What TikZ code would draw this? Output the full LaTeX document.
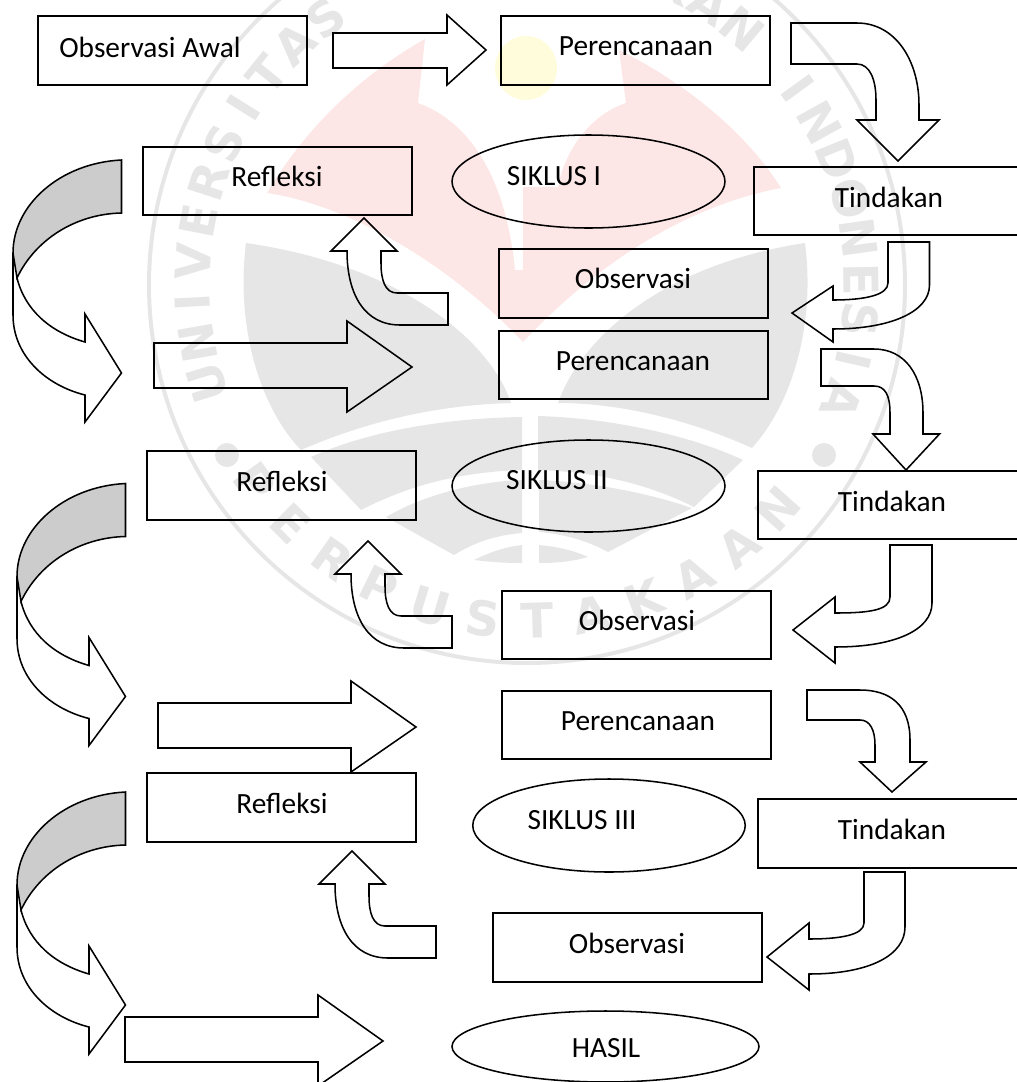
\documentclass[tikz,border=0pt]{standalone}
\usepackage{fontspec}
\setmainfont{Carlito}
\newfontfamily\wmfont{DejaVu Sans}
\usetikzlibrary{shapes.geometric}
\definecolor{wmgray}{HTML}{E6E6E6}
\definecolor{wmred}{HTML}{FCE6E6}
\definecolor{wmyellow}{HTML}{FFFCDC}
\definecolor{faceGray}{HTML}{CCCCCC}
\tikzset{
  line/.style={draw=black, line width=1.15pt, line join=miter},
  box/.style 2 args={line, rectangle, inner sep=0pt, minimum width=#1*0.75pt, minimum height=#2*0.75pt},
  oval/.style 2 args={line, ellipse, inner sep=0pt, minimum width=#1*0.75pt, minimum height=#2*0.75pt},
  lbl/.style={inner sep=0pt, font=\fontsize{22}{24}\selectfont},
  wmletter/.style={inner sep=0pt, text=wmgray, font=\wmfont\bfseries\fontsize{36}{38}\selectfont},
  curl/.pic={
    \draw[line, fill=faceGray] (121.5,160) .. controls (60,163) and (13,205) .. (13,253) -- (17,278) .. controls (35,240) and (75,214) .. (121.5,213) -- cycle;
    \draw[line] (13,253) -- (13,315) .. controls (13,355) and (45,385) .. (85,395) -- (85,422) -- (121.5,373) -- (85,314) -- (85,342) .. controls (50,332) and (25,310) .. (17,278);
  },
  upbend/.pic={
    \draw[line] (364,218) -- (397,251) -- (381,251) -- (381,263) .. controls (381,280) and (385,293) .. (397,293) -- (448,293) -- (448,325) -- (400,325) .. controls (365,325) and (347,295) .. (347,251) -- (331,251) -- cycle;
  },
  block/.pic={
    \draw[line] (154,343) -- (347,343) -- (347,321) -- (412,367) -- (347,412) -- (347,388) -- (154,388) -- cycle;
  },
}
\begin{document}
\begin{tikzpicture}[x=0.75pt, y=-0.75pt]
  \useasboundingbox (0,0) rectangle (1017,1082);
  \clip (0,0) rectangle (1017,1082);

  % watermark
  \coordinate (wmc) at (527,285);
  \fill[wmyellow] (526,68) ellipse[x radius=23.25pt, y radius=24pt];
  \fill[wmred] (425,39) -- (418,103) .. controls (465,120) and (505,170) .. (515,270) -- (523,270) -- (523,187) -- (558,187) .. controls (565,150) and (590,115) .. (626,103) -- (619,50) .. controls (680,80) and (745,130) .. (781,188) .. controls (690,205) and (600,260) .. (523,342) .. controls (450,265) and (350,205) .. (267,193) .. controls (310,120) and (370,70) .. (425,39) -- cycle;
  \fill[wmgray] (246,243) .. controls (235,330) and (262,410) .. (301,450) .. controls (370,420) and (440,405) .. (511,403) .. controls (490,340) and (400,265) .. (246,243) -- cycle;
  \fill[wmgray] (805,243) .. controls (815,320) and (795,400) .. (752,448) .. controls (690,420) and (620,403) .. (558,403) .. controls (580,340) and (660,265) .. (805,243) -- cycle;
  \fill[wmgray] (311,457) .. controls (370,430) and (450,418) .. (522,417) -- (522,470) .. controls (460,472) and (410,485) .. (361,510) -- cycle;
  \fill[wmgray] (538,416) .. controls (610,418) and (690,435) .. (743,460) -- (694,507) .. controls (650,485) and (600,472) .. (538,470) -- cycle;
  \fill[wmgray] (386,517) .. controls (420,497) and (470,482) .. (522,480) -- (522,533) .. controls (497,535) and (475,542) .. (454,555) -- cycle;
  \fill[wmgray] (539,480) .. controls (590,482) and (645,492) .. (692,508) -- (608,552) .. controls (590,542) and (565,534) .. (539,532) -- cycle;
  \fill[wmgray] (474,560) .. controls (490,552) and (505,547) .. (522,545) -- (522,563) .. controls (505,563) and (490,562) .. (474,560) -- cycle;
  \fill[wmgray] (539,545) .. controls (560,547) and (575,551) .. (588,557) .. controls (570,562) and (555,563) .. (539,563) -- cycle;
  \draw[wmgray, line width=3pt] (wmc) circle[radius=283.5pt];
  \foreach \ch [count=\i, evaluate=\i as \a using 197-(\i-1)*7, evaluate=\a as \r using \a-90] in {U,N,I,V,E,R,S,I,T,A,S,{},P,E,N,D,I,D,I,K,A,N,{},I,N,D,O,N,E,S,I,A}
    \node[wmletter, rotate=\r] (wmtop\i) at ([shift={(\a:251pt)}]wmc) {\ch};
  \foreach \ch [count=\i, evaluate=\i as \a using 216+(\i-1)*9.3, evaluate=\a as \r using \a+90] in {P,E,R,P,U,S,T,A,K,A,A,N}
    \node[wmletter, rotate=\r] (wmbot\i) at ([shift={(\a:252pt)}]wmc) {\ch};
  \fill[wmgray] (227,455) circle[radius=9pt];
  \fill[wmgray] (824,455) circle[radius=9pt];

  % first row
  \node[box={269}{69}] (obsawal) at (172.5,50.5) {};
  \node[lbl] (obsawaltxt) at (150,47) {Observasi Awal};
  \draw[line] (333,33) -- (447,33) -- (447,15) -- (486,50) -- (447,85) -- (447,68) -- (333,68) -- cycle;
  \node[box={269}{69}] (ren1) at (635.5,50.5) {};
  \node[lbl] (ren1txt) at (636,46) {Perencanaan};
  \draw[line] (791,23) -- (857,23) .. controls (895,23) and (919,60) .. (919,105) -- (919,120) -- (939,120) -- (898,161) -- (857,120) -- (876,120) -- (876,100) .. controls (876,80) and (870,64) .. (857,64) -- (791,64) -- cycle;

  % siklus 1
  \node[box={269}{68}] (ref1) at (277.5,181) {};
  \node[lbl] (ref1txt) at (277,176) {Refleksi};
  \node[oval={273}{93}] (sik1) at (588.5,181.5) {};
  \node[lbl] (sik1txt) at (554,176) {SIKLUS I};
  \node[box={290}{68}] (tin1) at (899,201) {};
  \node[lbl] (tin1txt) at (889,197) {Tindakan};
  \draw[line] (888,242) -- (929.5,242) -- (929.5,285) .. controls (929.5,312) and (890,329) .. (833,329) -- (833,342) -- (792,313) -- (833,286) -- (833,300) .. controls (865,300) and (888,295) .. (888,283) -- cycle;
  \node[box={269}{69}] (obs1) at (633.5,283.5) {};
  \node[lbl] (obs1txt) at (633,278) {Observasi};
  \pic at (0,0) {upbend};
  \pic at (0,0) {curl};
  \pic at (0,0) {block};
  \node[box={269}{68}] (ren2) at (633.5,365) {};
  \node[lbl] (ren2txt) at (633,361) {Perencanaan};
  \draw[line] (821,349) -- (874,349) .. controls (905,349) and (923,375) .. (923,413) -- (923,434) -- (939.5,434) -- (906,470) -- (873,434) -- (890,434) -- (890,413) .. controls (890,395) and (885,386) .. (874,386) -- (821,386) -- cycle;

  % siklus 2
  \node[box={269}{69}] (ref2) at (281.5,485.5) {};
  \node[lbl] (ref2txt) at (282,481) {Refleksi};
  \node[oval={273}{92}] (sik2) at (588.5,486) {};
  \node[lbl] (sik2txt) at (557,480) {SIKLUS II};
  \node[box={290}{68}] (tin2) at (903,505) {};
  \node[lbl] (tin2txt) at (892,501) {Tindakan};
  \draw[line] (890,545) -- (932,545) -- (932,603) .. controls (932,630) and (895,647) .. (835,647) -- (835,663) -- (793,630) -- (835,597) -- (835,613) .. controls (870,613) and (890,610) .. (890,597) -- cycle;
  \node[box={269}{68}] (obs2) at (636.5,625) {};
  \node[lbl] (obs2txt) at (637,620) {Observasi};
  \pic at (4,323) {upbend};
  \pic at (4,323.5) {curl};
  \pic at (4,360) {block};
  \node[box={269}{68}] (ren3) at (636.5,725) {};
  \node[lbl] (ren3txt) at (638,721) {Perencanaan};
  \draw[line] (807,690) -- (860,690) .. controls (890,690) and (910,705) .. (910,740) -- (910,762) -- (926,762) -- (892,792) -- (860,762) -- (875,762) -- (875,745) .. controls (875,730) and (870,720) .. (860,720) -- (807,720) -- cycle;

  % siklus 3
  \node[box={269}{69}] (ref3) at (281.5,807.5) {};
  \node[lbl] (ref3txt) at (282,803) {Refleksi};
  \node[oval={272.5}{93}] (sik3) at (609,825.5) {};
  \node[lbl] (sik3txt) at (582,820) {SIKLUS III};
  \node[box={290}{69}] (tin3) at (903,833.5) {};
  \node[lbl] (tin3txt) at (892,829) {Tindakan};
  \draw[line] (864,872) -- (905,872) -- (905,927) .. controls (905,955) and (870,974) .. (809,974) -- (809,990) -- (767,957) -- (809,923) -- (809,939) .. controls (840,939) and (864,935) .. (864,923) -- cycle;
  \node[box={269}{69}] (obs3) at (627.5,947.5) {};
  \node[lbl] (obs3txt) at (627,943) {Observasi};
  \pic at (-12,633) {upbend};
  \pic at (4,632) {curl};
  \pic at (-29,674) {block};
  \node[oval={307}{71}] (hasil) at (605.5,1046.5) {};
  \node[lbl] (hasiltxt) at (606,1048) {HASIL};
\end{tikzpicture}
\end{document}
